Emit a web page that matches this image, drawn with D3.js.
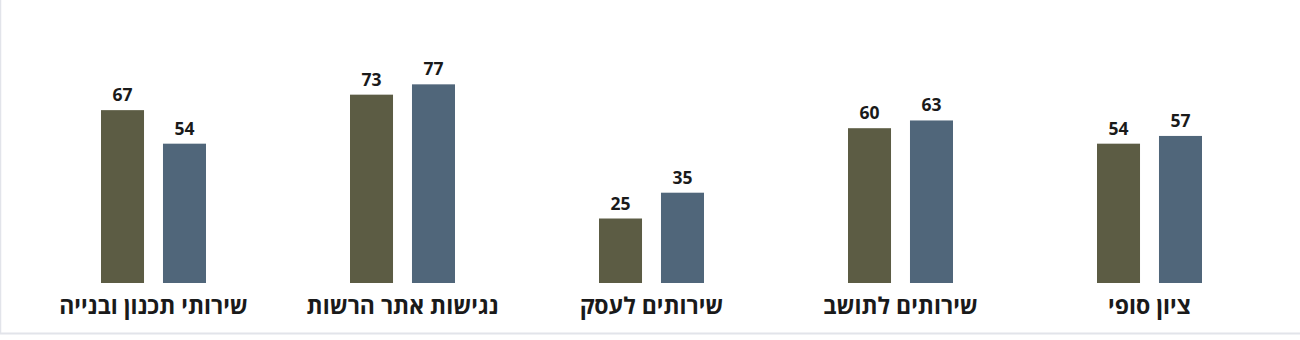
<!DOCTYPE html>
<html lang="he">
<head>
<meta charset="utf-8">
<script src="https://cdn.jsdelivr.net/npm/d3@7"></script>
<style>
  html, body { margin: 0; padding: 0; background: #ffffff; }
  svg { display: block; }
</style>
</head>
<body>
<svg id="chart" width="1300" height="340"></svg>
<script>
// Categories in Hebrew reading order (right to left on screen)
const categories = ["ציון סופי", "שירותים לתושב", "שירותים לעסק", "נגישות אתר הרשות", "שירותי תכנון ובנייה"];
const seriesNames = ["סדרה א", "סדרה ב"];
const seriesA = [54, 60, 25, 73, 67];
const seriesB = [57, 63, 35, 77, 54];
const colors = ["#5c5c44", "#50667a"];

const W = 1300, H = 340;
const svg = d3.select("#chart");
const FONT = "'Open Sans', 'DejaVu Sans', sans-serif";

// frame: left and bottom light border
svg.append("line").attr("x1", 0.5).attr("x2", 0.5).attr("y1", 0).attr("y2", 333)
  .attr("stroke", "#e2e4ea").attr("stroke-width", 1.5);
svg.append("line").attr("x1", 0).attr("x2", W).attr("y1", 333.5).attr("y2", 333.5)
  .attr("stroke", "#e2e4ea").attr("stroke-width", 2);

// x: RTL, first category at the right
const x0 = d3.scaleBand().domain(categories).range([1274, 29]).paddingInner(0).paddingOuter(0);
const x1 = d3.scaleBand().domain(seriesNames).range([0, 105]).paddingInner(0.306);
const y = d3.scaleLinear().domain([0, 100]).range([283, 25]);

const rows = categories.map((c, i) => ({ cat: c, vals: [seriesA[i], seriesB[i]] }));

const groups = svg.selectAll("g.grp").data(rows).join("g")
  .attr("class", "grp")
  .attr("transform", d => `translate(${x0(d.cat) + x0.bandwidth() / 2 - 52.5},0)`);

groups.selectAll("rect").data(d => d.vals.map((v, k) => ({ v, k }))).join("rect")
  .attr("x", d => x1(seriesNames[d.k]))
  .attr("width", x1.bandwidth())
  .attr("y", d => y(d.v))
  .attr("height", d => y(0) - y(d.v))
  .attr("fill", d => colors[d.k]);

groups.selectAll("text.val").data(d => d.vals.map((v, k) => ({ v, k }))).join("text")
  .attr("class", "val")
  .attr("x", d => x1(seriesNames[d.k]) + x1.bandwidth() / 2)
  .attr("y", d => y(d.v) - 9)
  .attr("text-anchor", "middle")
  .attr("font-family", FONT)
  .attr("font-weight", "bold")
  .attr("font-size", 17.5)
  .attr("fill", "#1a1a1a")
  .text(d => d.v);

svg.selectAll("text.cat").data(categories).join("text")
  .attr("class", "cat")
  .attr("x", d => x0(d) + x0.bandwidth() / 2)
  .attr("y", 314)
  .attr("text-anchor", "middle")
  .attr("direction", "rtl")
  .attr("font-family", FONT)
  .attr("font-weight", "bold")
  .attr("font-size", 23)
  .attr("fill", "#1a1a1a")
  .text(d => d);
</script>
</body>
</html>
